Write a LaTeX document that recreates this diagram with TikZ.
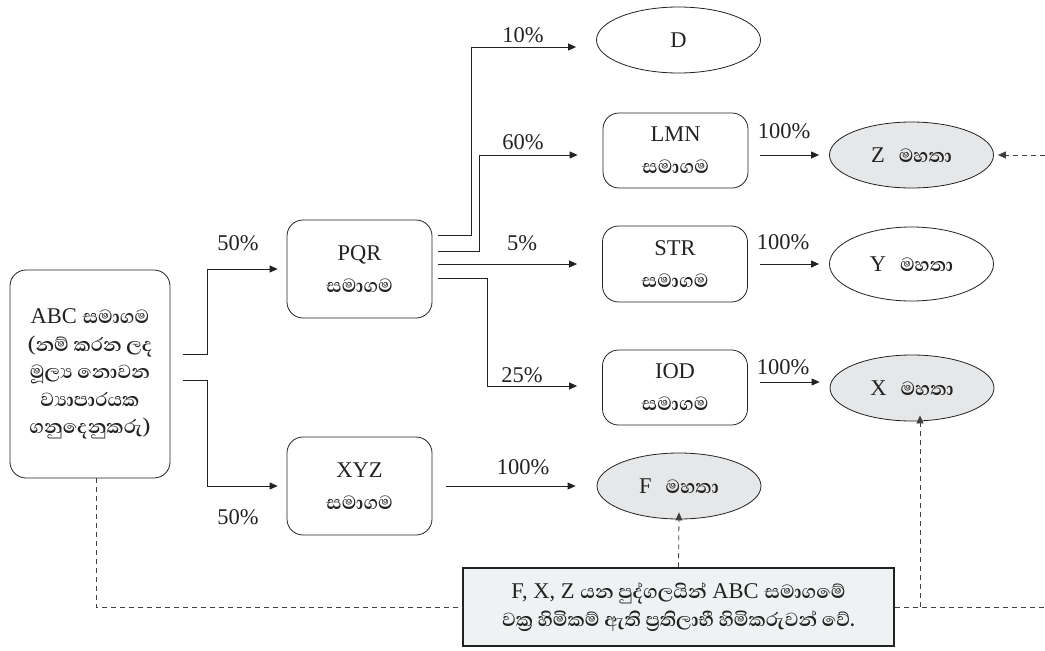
\documentclass[tikz,border=0pt]{standalone}
\usepackage{fontspec}
\setmainfont{Liberation Serif}
\newfontfamily\sinhfont[Script=Sinhala, Scale=1.08]{Abhaya Libre}
\newcommand\sinhtxt[1]{{\sinhfont\bfseries #1}}
\usetikzlibrary{shapes.geometric,arrows.meta}

\definecolor{ownerfill}{HTML}{E6E7E8}
\definecolor{notefill}{HTML}{EEF2F3}
\definecolor{inkgray}{HTML}{222222}

\tikzset{
  cbox/.style={draw=inkgray, line width=0.8pt, rounded corners=16pt,
    minimum width=145pt, minimum height=76pt, inner sep=0pt, align=center,
    text=inkgray, font=\fontsize{22.5}{32}\selectfont},
  owner/.style={draw=inkgray, line width=0.8pt, ellipse, minimum width=164pt,
    minimum height=66pt, inner sep=0pt, text=inkgray, font=\fontsize{22.5}{26}\selectfont},
  pct/.style={text=inkgray, inner sep=0pt, font=\fontsize{22.5}{26}\selectfont},
  arr/.style={draw=inkgray, line width=0.8pt, -{Triangle[length=8pt,width=7pt]}},
  dsh/.style={draw=black!75, line width=0.8pt, dash pattern=on 5pt off 4pt},
  dtip/.style={-{Triangle[length=8pt,width=7pt]}}
}

\begin{document}
\begin{tikzpicture}[x=1pt, y=-1pt]
\useasboundingbox (0,0) rectangle (1045,651);

% entities
\node[cbox, minimum width=160pt, minimum height=208pt, font=\fontsize{22.5}{27.5}\selectfont]
  (abc) at (90,374) {ABC \sinhtxt{සමාගම}\\\sinhtxt{(නම් කරන ලද}\\\sinhtxt{මූල්^^^^200dය නොවන}\\\sinhtxt{ව්^^^^200dයාපාරයක}\\\sinhtxt{ගනුදෙනුකරු)}};
\node[cbox, minimum height=98pt] (pqr) at (359.5,269) {PQR\\\sinhtxt{සමාගම}};
\node[cbox, minimum height=98pt] (xyz) at (359.5,486) {XYZ\\\sinhtxt{සමාගම}};
\node[cbox, minimum height=75pt] (lmn) at (675.5,150.5) {LMN\\\sinhtxt{සමාගම}};
\node[cbox] (str) at (675,264) {STR\\\sinhtxt{සමාගම}};
\node[cbox, minimum height=75pt] (iod) at (675,387.5) {IOD\\\sinhtxt{සමාගම}};

% ownership endpoints
\node[owner] (D) at (678.5,40) {D};
\node[owner, fill=ownerfill] (Z) at (911.5,155) {Z\hspace{14pt}\sinhtxt{මහතා}};
\node[owner, minimum height=74pt] (Y) at (911.5,264) {Y\hspace{14pt}\sinhtxt{මහතා}};
\node[owner, fill=ownerfill] (X) at (912,388) {X\hspace{14pt}\sinhtxt{මහතා}};
\node[owner, fill=ownerfill] (F) at (679,486) {F\hspace{14pt}\sinhtxt{මහතා}};

% explanatory note
\node[draw=inkgray, line width=1.1pt, fill=notefill, minimum width=431pt, minimum height=78pt,
  inner sep=0pt, align=center, text=inkgray, font=\fontsize{22.5}{28}\selectfont]
  (note) at (678.5,607) {F, X, Z \sinhtxt{යන පුද්ගලයින්} ABC \sinhtxt{සමාගමේ}\\\sinhtxt{වක්^^^^200dර හිමිකම් ඇති ප්^^^^200dරතිලාභී හිමිකරුවන් වේ.}};

% holdings
\draw[arr] ([shift={(13,-20)}]abc.east) -- ++(24,0) |- ([xshift=-9]pqr.west);
\draw[arr] ([shift={(13,6)}]abc.east) -- ++(24,0) |- ([xshift=-9]xyz.west);
\draw[arr] ([shift={(6,-34)}]pqr.east) -- ++(33,0) |- ([shift={(-20,7)}]D.west);
\draw[arr] ([shift={(6,-18)}]pqr.east) -- ++(41,0) |- ([shift={(-25,4.5)}]lmn.west);
\draw[arr] ([shift={(6,-5)}]pqr.east) -- ([xshift=-25]str.west);
\draw[arr] ([shift={(6,9)}]pqr.east) -- ++(49,0) |- ([shift={(-25,-1.5)}]iod.west);
\draw[arr] ([shift={(12,4.5)}]lmn.east) -- ([xshift=-10]Z.west);
\draw[arr] ([xshift=12]str.east) -- ([xshift=-10]Y.west);
\draw[arr] ([shift={(12,-5.5)}]iod.east) -- ([shift={(-10,-6)}]X.west);
\draw[arr] ([xshift=14]xyz.east) -- ([xshift=-21]F.west);

% percentages
\node[pct] (p50a) at (238,243) {50\%};
\node[pct] (p50b) at (238,517) {50\%};
\node[pct] (p10) at (523,35) {10\%};
\node[pct] (p60) at (523,142) {60\%};
\node[pct] (p5) at (522,243) {5\%};
\node[pct] (p25) at (522,375) {25\%};
\node[pct] (p100z) at (784,131) {100\%};
\node[pct] (p100y) at (783,242) {100\%};
\node[pct] (p100x) at (783,367) {100\%};
\node[pct] (p100f) at (523,467) {100\%};

% indirect ownership links
\coordinate (zin) at (1045,155);
\coordinate (redge) at (1045,607);
\path ([xshift=8]X.south) coordinate (xfoot);
\draw[dsh, dtip] (zin) -- ([xshift=4]Z.east);
\draw[dsh] ([xshift=6]abc.south) |- (note.west);
\draw[dsh] (note.east) -- (redge);
\draw[dsh, dtip] (xfoot |- note.east) -- ([yshift=6]xfoot);
\draw[dsh, dtip] (note.north) -- ([yshift=7]F.south);
\end{tikzpicture}
\end{document}
